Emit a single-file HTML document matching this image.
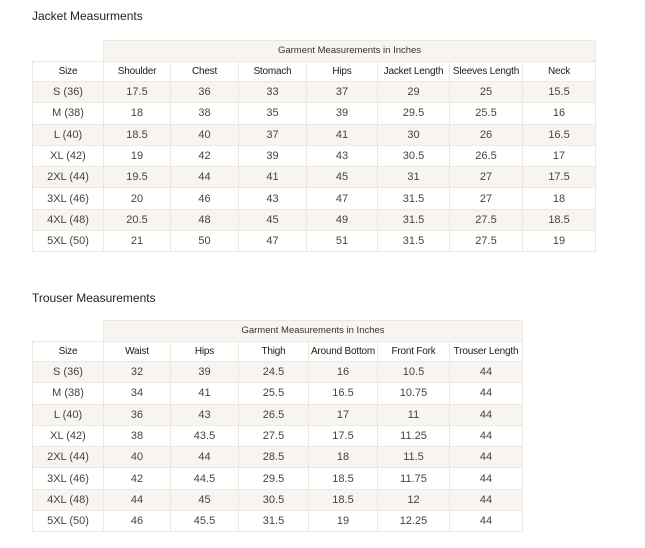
<!DOCTYPE html>
<html><head><meta charset="utf-8"><style>
body{margin:0;width:645px;height:548px;background:#fff;font-family:"Liberation Sans",sans-serif;position:relative;overflow:hidden}
.t{position:absolute;left:32px;font-size:12px;color:#222}
table{position:absolute;left:32px;border-collapse:collapse;table-layout:fixed}
td{border:1px solid #ece8e3;text-align:center;font-size:11px;color:#444;padding:0;height:20.3px;white-space:nowrap;overflow:hidden}
tr.h td{color:#1a1a1a;font-size:10px;height:19.5px;letter-spacing:-0.2px}
tr.g td{background:#f8f5f1;color:#333;font-size:9.5px;height:19.5px}
tr.g td.b{background:#fff;border:none;border-bottom:1px solid #ece8e3}
tr.o td{background:#f8f4ef}
</style></head><body>
<div class="t" style="top:9px">Jacket Measurments</div>
<table style="top:40px;width:563px">
<colgroup><col style="width:71px"><col style="width:67px"><col style="width:68px"><col style="width:68px"><col style="width:71px"><col style="width:72px"><col style="width:73px"><col style="width:73px"></colgroup>
<tr class="g"><td class="b"></td><td colspan="7">Garment Measurements in Inches</td></tr>
<tr class="h"><td>Size</td><td>Shoulder</td><td>Chest</td><td>Stomach</td><td>Hips</td><td>Jacket Length</td><td>Sleeves Length</td><td>Neck</td></tr>
<tr class="o"><td>S (36)</td><td>17.5</td><td>36</td><td>33</td><td>37</td><td>29</td><td>25</td><td>15.5</td></tr>
<tr><td>M (38)</td><td>18</td><td>38</td><td>35</td><td>39</td><td>29.5</td><td>25.5</td><td>16</td></tr>
<tr class="o"><td>L (40)</td><td>18.5</td><td>40</td><td>37</td><td>41</td><td>30</td><td>26</td><td>16.5</td></tr>
<tr><td>XL (42)</td><td>19</td><td>42</td><td>39</td><td>43</td><td>30.5</td><td>26.5</td><td>17</td></tr>
<tr class="o"><td>2XL (44)</td><td>19.5</td><td>44</td><td>41</td><td>45</td><td>31</td><td>27</td><td>17.5</td></tr>
<tr><td>3XL (46)</td><td>20</td><td>46</td><td>43</td><td>47</td><td>31.5</td><td>27</td><td>18</td></tr>
<tr class="o"><td>4XL (48)</td><td>20.5</td><td>48</td><td>45</td><td>49</td><td>31.5</td><td>27.5</td><td>18.5</td></tr>
<tr><td>5XL (50)</td><td>21</td><td>50</td><td>47</td><td>51</td><td>31.5</td><td>27.5</td><td>19</td></tr>
</table>
<div class="t" style="top:291px">Trouser Measurements</div>
<table style="top:320px;width:490px">
<colgroup><col style="width:71px"><col style="width:67px"><col style="width:68px"><col style="width:70px"><col style="width:69px"><col style="width:72px"><col style="width:73px"></colgroup>
<tr class="g"><td class="b"></td><td colspan="6">Garment Measurements in Inches</td></tr>
<tr class="h"><td>Size</td><td>Waist</td><td>Hips</td><td>Thigh</td><td>Around Bottom</td><td>Front Fork</td><td>Trouser Length</td></tr>
<tr class="o"><td>S (36)</td><td>32</td><td>39</td><td>24.5</td><td>16</td><td>10.5</td><td>44</td></tr>
<tr><td>M (38)</td><td>34</td><td>41</td><td>25.5</td><td>16.5</td><td>10.75</td><td>44</td></tr>
<tr class="o"><td>L (40)</td><td>36</td><td>43</td><td>26.5</td><td>17</td><td>11</td><td>44</td></tr>
<tr><td>XL (42)</td><td>38</td><td>43.5</td><td>27.5</td><td>17.5</td><td>11.25</td><td>44</td></tr>
<tr class="o"><td>2XL (44)</td><td>40</td><td>44</td><td>28.5</td><td>18</td><td>11.5</td><td>44</td></tr>
<tr><td>3XL (46)</td><td>42</td><td>44.5</td><td>29.5</td><td>18.5</td><td>11.75</td><td>44</td></tr>
<tr class="o"><td>4XL (48)</td><td>44</td><td>45</td><td>30.5</td><td>18.5</td><td>12</td><td>44</td></tr>
<tr><td>5XL (50)</td><td>46</td><td>45.5</td><td>31.5</td><td>19</td><td>12.25</td><td>44</td></tr>
</table>
</body></html>
